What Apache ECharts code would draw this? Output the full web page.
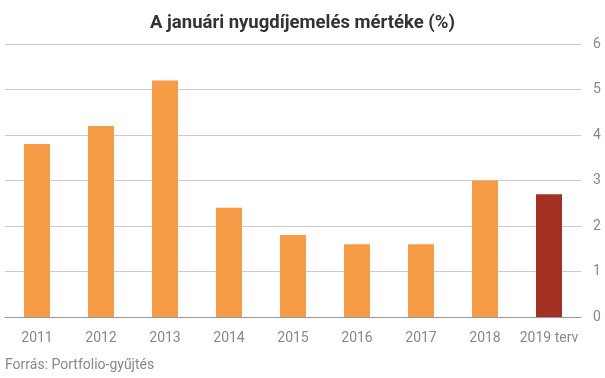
<!DOCTYPE html>
<html><head><meta charset="utf-8">
<script src="https://cdn.jsdelivr.net/npm/echarts@6/dist/echarts.min.js"></script>
<style>html,body{margin:0;padding:0;background:#fff}#c{width:605px;height:378px}</style>
</head><body><div id="c"></div>
<script>
const categories = ['2011','2012','2013','2014','2015','2016','2017','2018','2019 terv'];
const values = [3.8, 4.2, 5.2, 2.4, 1.8, 1.6, 1.6, 3.0, 2.7];
const yTicks = [0,1,2,3,4,5,6];
const chart = echarts.init(document.getElementById('c'));
chart.setOption({
  animation:false,
  title:{text:'A januári nyugdíjemelés mértéke (%)',left:'center',top:9,
    textStyle:{fontFamily:'Roboto',fontWeight:'bold',fontSize:18.5,color:'#333'}},
  graphic:[{type:'text',left:5,top:358,style:{text:'Forrás: Portfolio-gyűjtés',font:'14px Roboto',fill:'#888'}}],
  grid:{left:5,right:24,top:44,bottom:61},
  xAxis:{type:'category',data:categories,
    axisLine:{lineStyle:{color:'#999'}},axisTick:{show:false},
    axisLabel:{color:'#888',fontFamily:'Roboto',fontSize:14,margin:14,interval:0}},
  yAxis:{type:'value',position:'right',min:0,max:6,interval:1,
    axisLine:{show:false},axisTick:{show:false},
    splitLine:{lineStyle:{color:'#ccc'}},
    axisLabel:{color:'#888',fontFamily:'Roboto',fontSize:14,margin:12,
      formatter:v=>yTicks.includes(v)?String(v):''}},
  series:[{type:'bar',barWidth:26,
    data:values.map((v,i)=>({value:v,itemStyle:{color:i===values.length-1?'#A33022':'#F79C46'}}))}]
});
</script></body></html>
